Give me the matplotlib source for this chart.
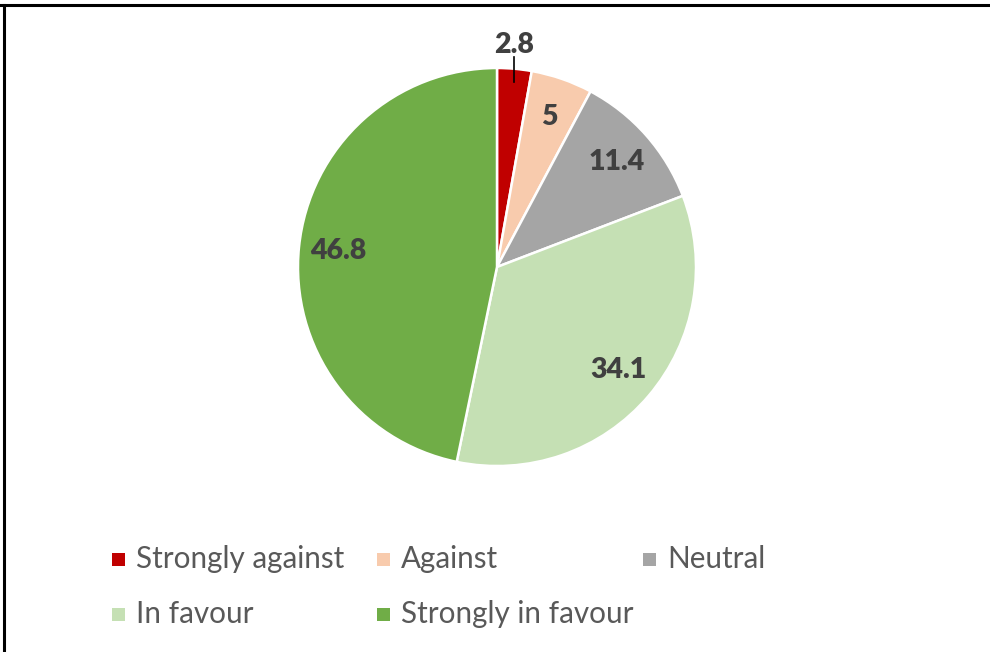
import numpy as np
import matplotlib
matplotlib.use("Agg")
import matplotlib.pyplot as plt
from matplotlib.patches import Rectangle
from matplotlib.lines import Line2D

plt.rcParams['font.family'] = ['Lato', 'DejaVu Sans']

categories = ['Strongly against', 'Against', 'Neutral', 'In favour', 'Strongly in favour']
values = [2.8, 5, 11.4, 34.1, 46.8]
colors = ['#C00000', '#F8CBAD', '#A5A5A5', '#C5E0B4', '#70AD47']

W, H = 990, 652
fig = plt.figure(figsize=(W / 100, H / 100), dpi=100)

# pie axes: centre (497, 267) px, radius 199 px
cx, cy, r = 497, 267, 199
ax = fig.add_axes([(cx - r) / W, (H - cy - r) / H, 2 * r / W, 2 * r / H])
wedges, _ = ax.pie(values, colors=colors, startangle=90, counterclock=False,
                   radius=1.0, wedgeprops=dict(edgecolor='white', linewidth=1.8))
ax.set_xlim(-1, 1)
ax.set_ylim(-1, 1)
ax.set_aspect('equal', adjustable='box')
ax.axis('off')

label_kw = dict(fontsize=20.5, fontweight='heavy', color='#404040', ha='center')
for w, v in zip(wedges, values):
    mid = np.deg2rad((w.theta1 + w.theta2) / 2)
    txt = f'{v:g}'
    if v < 4:
        # small slice: label above the pie with a leader line
        x = 0.95 * np.cos(mid)
        ax.plot([x, x], [0.93, 1.055], color='black', lw=1.2, clip_on=False)
        ax.text(x, 1.075, txt, va='baseline', clip_on=False, **label_kw)
    else:
        ax.text(0.8 * np.cos(mid), 0.8 * np.sin(mid), txt, va='center', **label_kw)

# legend: three columns, two rows
col_x = [112, 377, 643]
row_y = [559, 614]
for i, (lab, col) in enumerate(zip(categories, colors)):
    c, rw = i % 3, i // 3
    mx, my = col_x[c], row_y[rw]
    fig.add_artist(Rectangle(((mx) / W, (H - my - 6.5) / H), 13 / W, 13 / H,
                             transform=fig.transFigure, facecolor=col, edgecolor='none'))
    fig.text((mx + 24) / W, (H - my) / H, lab, fontsize=21.3, color='#595959',
             va='center', ha='left')

# frame lines along the top and left edges
fig.add_artist(Line2D([0, 1], [1 - 5 / H, 1 - 5 / H], transform=fig.transFigure,
                      color='black', lw=2.2))
fig.add_artist(Line2D([3.5 / W, 3.5 / W], [0, 1 - 5 / H], transform=fig.transFigure,
                      color='black', lw=2.2))

fig.savefig('out.png', dpi=100, facecolor='white')
